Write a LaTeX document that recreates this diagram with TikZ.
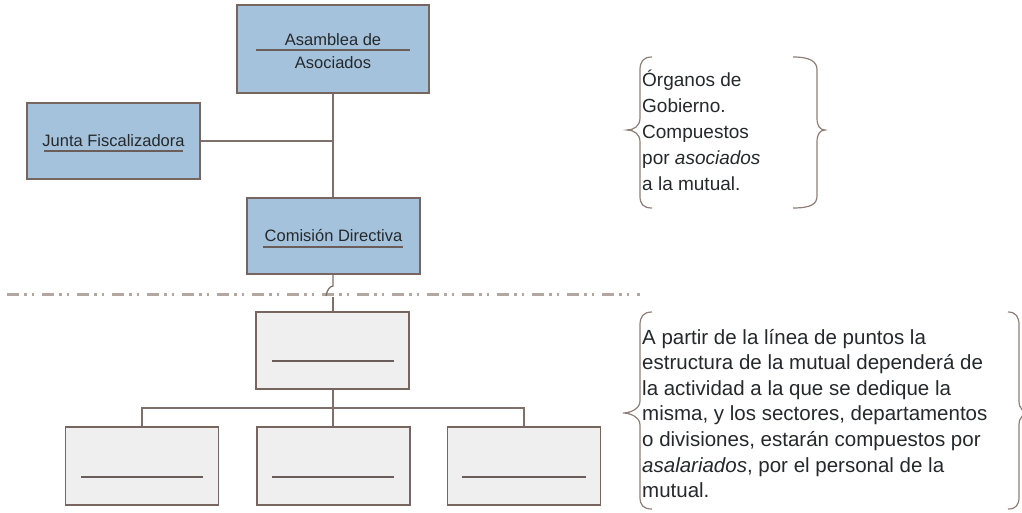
\documentclass[tikz,border=0pt]{standalone}
\usepackage{fontspec}
\setmainfont{Liberation Sans}
\definecolor{boxblue}{HTML}{A4C2DB}
\definecolor{edgec}{HTML}{76665F}
\definecolor{connc}{HTML}{80706B}
\definecolor{grayfill}{HTML}{EFEFEF}
\definecolor{txtc}{HTML}{26292C}
\definecolor{dashc}{HTML}{B3A7A2}
\definecolor{bracec}{HTML}{8E7E78}
\definecolor{ulc}{HTML}{6B5E5A}
\tikzset{
  bluebox/.style={draw=edgec, line width=1.6pt, fill=boxblue, rectangle, inner sep=0pt,
    text=txtc, font=\fontsize{16.5}{23}\selectfont, align=center},
  greybox/.style={draw=edgec, line width=1.6pt, fill=grayfill, rectangle, inner sep=0pt,
    minimum width=153pt, minimum height=78pt},
  connline/.style={draw=connc, line width=1.3pt},
  uline/.style={draw=ulc, line width=1.6pt},
  bracestroke/.style={draw=bracec, line width=1.2pt},
  sidetext/.style={anchor=base west, inner sep=0pt, text=txtc},
  dashdotdot/.style={draw=dashc, line width=3pt,
    dash pattern=on 12pt off 5pt on 2.5pt off 5pt on 2.5pt off 8pt}
}
\begin{document}
\begin{tikzpicture}[x=1pt, y=-1pt]
\useasboundingbox (0,0) rectangle (1022,513);
\fill[white] (0,0) rectangle (1022,513);

% upper boxes
\node[bluebox, minimum width=192pt, minimum height=88pt] (asamblea) at (333,49) {};
\node[inner sep=0pt, text=txtc, font=\fontsize{16.5}{23}\selectfont, align=center] (asamblealbl) at (333,51.5) {Asamblea de\\Asociados};
\node[bluebox, minimum width=173pt, minimum height=76pt] (junta) at (113.5,141) {Junta Fiscalizadora};
\node[bluebox, minimum width=173pt, minimum height=76pt] (comision) at (333.5,236) {Comisión Directiva};
\draw[uline] (256,50) -- (410,50);
\draw[uline] (44,151) -- (183,151);
\draw[uline] (263,247) -- (403,247);

% lower boxes
\node[greybox, minimum height=77pt] (g0) at (332.5,350.5) {};
\node[greybox] (g1) at (142,466) {};
\node[greybox] (g2) at (333.5,466) {};
\node[greybox] (g3) at (524,466) {};
\draw[uline] (272,361) -- (394,361);
\draw[uline] (81,477) -- (203,477);
\draw[uline] (272,477) -- (394,477);
\draw[uline] (462,477) -- (586,477);

% dash-dot-dot separator
\coordinate (sepL) at (7,294);
\coordinate (sepR) at (640,294);
\draw[dashdotdot] (sepL) -- (sepR);

% connectors
\draw[connline] (asamblea.south) -- (comision.north -| asamblea.south);
\draw[connline] (junta.east) -- (junta.east -| asamblea.south);
\coordinate (hopA) at (333,286);
\coordinate (hopB) at (326,296);
\coordinate (hopC) at (333,297);
\draw[connline] (comision.south -| asamblea.south) -- (hopA) .. controls (330,286) and (327,290) .. (hopB);
\draw[connline] (hopC) -- (g0.north -| asamblea.south);
\coordinate (bus) at (333,408);
\draw[connline] (g0.south -| asamblea.south) -- (g2.north -| asamblea.south);
\draw[connline] (g1.north) |- (bus) -| (g3.north);

% braces
\draw[bracestroke] (652,57) .. controls (643,57) and (640,62) .. (640,70) -- (640,118)
  .. controls (640,126) and (634,130) .. (627,130) .. controls (634,130) and (640,134) .. (640,142)
  -- (640,196) .. controls (640,204) and (643,208) .. (652,208);
\draw[bracestroke] (793,57) .. controls (811,57) and (817,62) .. (817,70) -- (817,118)
  .. controls (817,126) and (820,130) .. (825,130) .. controls (820,130) and (817,134) .. (817,142)
  -- (817,196) .. controls (817,204) and (811,208) .. (793,208);
\draw[bracestroke] (652,312) .. controls (643,312) and (640,317) .. (640,325) -- (640,401)
  .. controls (640,409) and (630,413) .. (623,413) .. controls (630,413) and (640,417) .. (640,425)
  -- (640,497) .. controls (640,505) and (643,509) .. (652,509);
\draw[bracestroke] (1008,312) .. controls (1016,312) and (1019,317) .. (1019,325) -- (1019,401)
  .. controls (1019,409) and (1024,413) .. (1030,413) .. controls (1024,413) and (1019,417) .. (1019,425)
  -- (1019,497) .. controls (1019,505) and (1016,509) .. (1008,509);

% side texts
\node[sidetext, font=\fontsize{19}{26}\selectfont] (gobierno) at (642,87)
  {\begin{tabular}[t]{@{}l@{}}Órganos de\\Gobierno.\\Compuestos\\por \textit{asociados}\\a la mutual.\end{tabular}};
\node[sidetext, font=\fontsize{20.5}{25.6}\selectfont] (estructura) at (642,344)
  {\begin{tabular}[t]{@{}l@{}}A partir de la línea de puntos la\\estructura de la mutual dependerá de\\la actividad a la que se dedique la\\misma, y los sectores, departamentos\\o divisiones, estarán compuestos por\\\textit{asalariados}, por el personal de la\\mutual.\end{tabular}};
\end{tikzpicture}
\end{document}
